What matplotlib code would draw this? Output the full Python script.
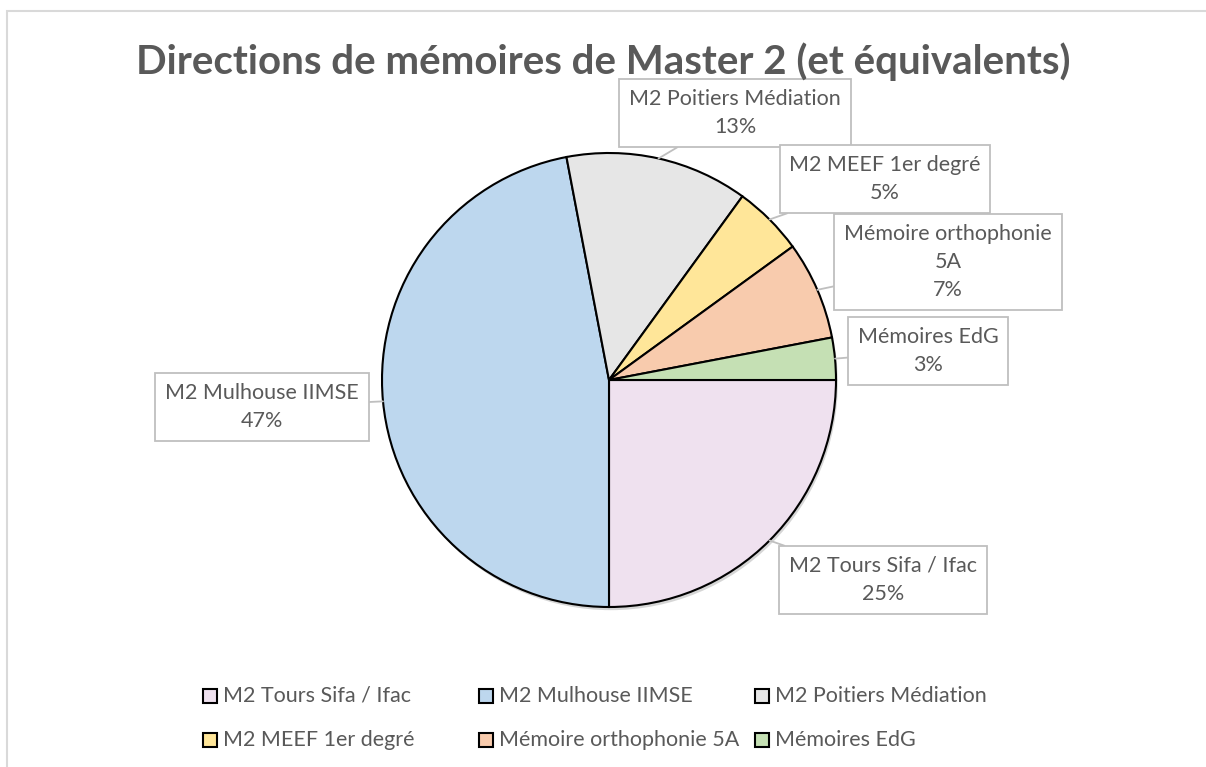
import matplotlib.pyplot as plt
import numpy as np
from matplotlib.patches import Rectangle, Circle

# Data
labels = ["M2 Tours Sifa / Ifac", "M2 Mulhouse IIMSE", "M2 Poitiers Médiation",
          "M2 MEEF 1er degré", "Mémoire orthophonie 5A", "Mémoires EdG"]
callout_labels = ["M2 Tours Sifa / Ifac", "M2 Mulhouse IIMSE", "M2 Poitiers Médiation",
                  "M2 MEEF 1er degré", "Mémoire orthophonie\n5A", "Mémoires EdG"]
values = [25, 47, 13, 5, 7, 3]
colors = ["#EFE1EF", "#BDD7EE", "#E6E6E6", "#FFE699", "#F8CBAD", "#C5E0B4"]
title = "Directions de mémoires de Master 2 (et équivalents)"

W, H = 1206, 767
TXT = "#595959"
FONT = "Lato"

# callout box centres in pixels (top-left origin)
callout_px = [(883, 580), (262, 407), (735, 113), (885, 179), (948, 262), (928, 351)]
# legend entry positions (marker left x, row y) in pixels
legend_px = [(203, 696), (479, 696), (755, 696), (203, 740), (479, 740), (755, 740)]

cx, cy, r = 609, 380, 227


def to_data(px, py):
    return (px - cx) / r, (cy - py) / r


fig = plt.figure(figsize=(W / 100, H / 100), dpi=100)
fig.patch.set_facecolor("white")

# outer chart border
fig.patches.append(Rectangle((7 / W, -0.1), 1.2, 1 - 11 / H + 0.1, transform=fig.transFigure,
                             fill=False, edgecolor="#D9D9D9", linewidth=1.5))

fig.text(603 / W, 1 - 62 / H, title, ha="center", va="center", fontsize=29,
         fontweight="bold", color=TXT, family=FONT)

ax = fig.add_axes([(cx - r) / W, 1 - (cy + r) / H, 2 * r / W, 2 * r / H])

wedges, _ = ax.pie(values, colors=colors, startangle=0, counterclock=False, radius=1,
                   wedgeprops=dict(edgecolor="black", linewidth=1.5))
ax.set_xlim(-1, 1)
ax.set_ylim(-1, 1)
ax.axis("off")
for w in wedges:
    w.set_clip_on(False)

# soft shadow under the pie
ax.add_patch(Circle((0.008, -0.014), 1.0, facecolor="#8c8c8c", alpha=0.35,
                    edgecolor="none", zorder=0, clip_on=False))

total = sum(values)
for w, lab, v, (bx, by) in zip(wedges, callout_labels, values, callout_px):
    ang = np.deg2rad((w.theta1 + w.theta2) / 2)
    ax.annotate(f"{lab}\n{round(100 * v / total)}%",
                xy=(np.cos(ang), np.sin(ang)), xytext=to_data(bx, by),
                ha="center", va="center", fontsize=15.5, color=TXT, family=FONT,
                linespacing=1.5, annotation_clip=False,
                bbox=dict(boxstyle="square,pad=0.45", facecolor="white",
                          edgecolor="#BFBFBF", linewidth=1.3),
                arrowprops=dict(arrowstyle="-", color="#BFBFBF", linewidth=1.3,
                                shrinkA=0, shrinkB=0))

# legend, laid out as in the original (row-wise, three columns)
for lab, col, (lx, ly) in zip(labels, colors, legend_px):
    fig.patches.append(Rectangle((lx / W, 1 - (ly + 7) / H), 14 / W, 14 / H,
                                 transform=fig.transFigure, facecolor=col,
                                 edgecolor="black", linewidth=1.5))
    fig.text((lx + 20) / W, 1 - ly / H, lab, ha="left", va="center", fontsize=15.5,
             color=TXT, family=FONT)

fig.savefig("out.png", dpi=100)
